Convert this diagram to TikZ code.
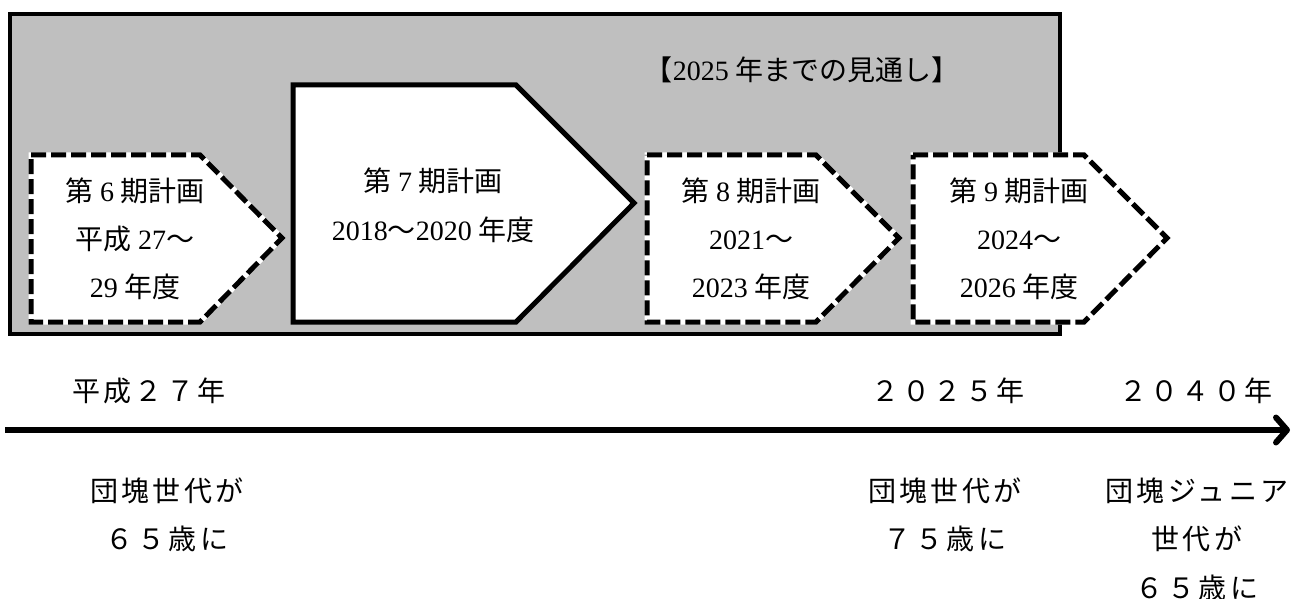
\documentclass[tikz,border=0pt]{standalone}
\usepackage{fontspec}
\setmainfont{Liberation Serif}
\newfontfamily\jp{Noto Sans CJK JP}
\newfontfamily\jpw[LetterSpace=12]{Noto Sans CJK JP}
\usetikzlibrary{arrows.meta}
\definecolor{boxgray}{HTML}{BFBFBF}
\newcommand\js{\hspace{0.22em}}
\tikzset{
  txt/.style={font=\fontsize{28}{48}\selectfont, align=center, inner sep=0pt},
  lbl/.style={font=\jpw\fontsize{28}{48.5}\selectfont, align=center, inner sep=0pt},
  planbase/.style={fill=white, draw=white, line width=5pt},
  plandash/.style={draw=black, line width=5pt, dash pattern=on 15pt off 5pt},
  plansolid/.style={draw=black, fill=white, line width=5pt},
  outer/.style={fill=boxgray, draw=black, line width=4.5pt},
  axis/.style={line width=6pt, -{Straight Barb[length=11pt,width=25pt,round]}},
}
\begin{document}
\begin{tikzpicture}[x=1pt,y=-1pt]
\useasboundingbox (0,0) rectangle (1293,599);
% outer grey frame
\draw[outer] (10,14) rectangle (1060,334);
\node[txt] (title) at (802,70) {{\jp 【}2025\js{\jp 年までの見通し】}};
% plan 6
\path[planbase] (31,155) -- (200,155) -- (282,238) -- (200,322) -- (31,322) -- cycle;
\draw[plandash] (31,155) -- (200,155) -- (282,238) -- (200,322) -- (31,322) -- cycle;
\node[txt] (p6) at (135,239) {{\jp 第}\js 6\js{\jp 期計画}\\{\jp 平成}\js 27{\jp ～}\\29\js{\jp 年度}};
% plan 7
\draw[plansolid] (293,85) -- (516,85) -- (634,203) -- (516,322) -- (293,322) -- cycle;
\node[txt, font=\fontsize{28}{49}\selectfont] (p7) at (433,205) {{\jp 第}\js 7\js{\jp 期計画}\\2018{\jp ～}2020\js{\jp 年度}};
% plan 8
\path[planbase] (647,155) -- (816,155) -- (899,238) -- (816,322) -- (647,322) -- cycle;
\draw[plandash] (647,155) -- (816,155) -- (899,238) -- (816,322) -- (647,322) -- cycle;
\node[txt] (p8) at (751,239) {{\jp 第}\js 8\js{\jp 期計画}\\2021{\jp ～}\\2023\js{\jp 年度}};
% plan 9
\path[planbase] (913,155) -- (1084,155) -- (1167,238) -- (1084,322) -- (913,322) -- cycle;
\draw[plandash] (913,155) -- (1084,155) -- (1167,238) -- (1084,322) -- (913,322) -- cycle;
\node[txt] (p9) at (1019,239) {{\jp 第}\js 9\js{\jp 期計画}\\2024{\jp ～}\\2026\js{\jp 年度}};
% time axis
\coordinate (a0) at (5,430);
\coordinate (a1) at (1290,430);
\draw[axis] (a0) -- (a1);
\node[lbl] (y2015) at (149,391) {平成２７年};
\node[lbl] (y2025) at (948,391) {２０２５年};
\node[lbl] (y2040) at (1196,391) {２０４０年};
\node[lbl] (e1) at (167,515) {団塊世代が\\６５歳に};
\node[lbl] (e2) at (945,515) {団塊世代が\\７５歳に};
\node[lbl] (e3) at (1197,539) {団塊ジュニア\\世代が\\６５歳に};
\end{tikzpicture}
\end{document}
